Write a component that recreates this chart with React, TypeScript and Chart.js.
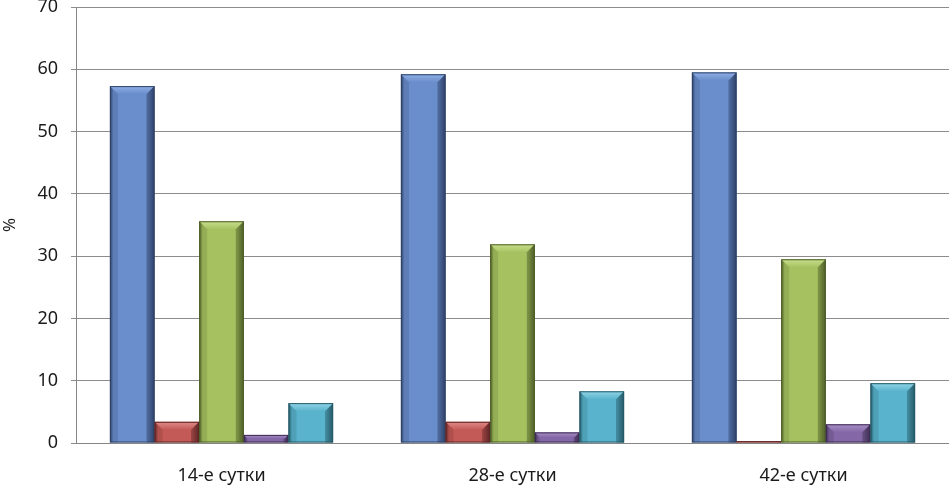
import React, { useEffect, useRef } from "react";
import { Chart, registerables } from "chart.js";

Chart.register(...registerables);

const categories = ["14-е сутки", "28-е сутки", "42-е сутки"];
const series1 = [57.3, 59.2, 59.5];
const series2 = [3.4, 3.4, 0.3];
const series3 = [35.6, 31.9, 29.5];
const series4 = [1.3, 1.7, 3.0];
const series5 = [6.4, 8.3, 9.6];
const yTicks = [0, 10, 20, 30, 40, 50, 60, 70];

const palette = [
  { face: "#6a8dcb", light: "#8fb0e6", dark: "#2e4267" },
  { face: "#c45a57", light: "#e08c89", dark: "#5e2625" },
  { face: "#a6c260", light: "#c9df8e", dark: "#4d5e28" },
  { face: "#8467a6", light: "#a990c8", dark: "#3d2d52" },
  { face: "#5ab3cc", light: "#90d5e8", dark: "#255968" },
];

const bevelPlugin = {
  id: "bevel",
  afterDatasetsDraw(chart: any) {
    const ctx = chart.ctx;
    chart.data.datasets.forEach((ds: any, di: number) => {
      const meta = chart.getDatasetMeta(di);
      const c = palette[di];
      meta.data.forEach((bar: any) => {
        const w = bar.width;
        const x0 = bar.x - w / 2;
        const x1 = bar.x + w / 2;
        const top = Math.min(bar.y, bar.base);
        const bot = Math.max(bar.y, bar.base);
        const h = bot - top;
        if (h <= 0) return;
        ctx.save();
        const g = ctx.createLinearGradient(x0, 0, x1, 0);
        g.addColorStop(0, c.dark);
        g.addColorStop(0.08, c.face);
        g.addColorStop(0.5, c.face);
        g.addColorStop(0.85, c.face);
        g.addColorStop(1, c.dark);
        ctx.fillStyle = g;
        ctx.fillRect(x0, top, w, h);
        const b = Math.min(8, h / 2);
        const tg = ctx.createLinearGradient(0, top, 0, top + b);
        tg.addColorStop(0, c.light);
        tg.addColorStop(1, c.face);
        ctx.fillStyle = tg;
        ctx.beginPath();
        ctx.moveTo(x0, top);
        ctx.lineTo(x1, top);
        ctx.lineTo(x1 - b, top + b);
        ctx.lineTo(x0 + b, top + b);
        ctx.closePath();
        ctx.fill();
        ctx.fillStyle = c.dark;
        ctx.globalAlpha = 0.5;
        ctx.beginPath();
        ctx.moveTo(x1, top);
        ctx.lineTo(x1, bot);
        ctx.lineTo(x1 - b, bot);
        ctx.lineTo(x1 - b, top + b);
        ctx.closePath();
        ctx.fill();
        ctx.globalAlpha = 0.2;
        ctx.beginPath();
        ctx.moveTo(x0, top);
        ctx.lineTo(x0 + b, top + b);
        ctx.lineTo(x0 + b, bot);
        ctx.lineTo(x0, bot);
        ctx.closePath();
        ctx.fill();
        ctx.globalAlpha = 1;
        ctx.strokeStyle = c.dark;
        ctx.lineWidth = 1;
        ctx.strokeRect(x0 + 0.5, top + 0.5, w - 1, h - 1);
        ctx.restore();
      });
    });
  },
};

export default function App() {
  const ref = useRef<HTMLCanvasElement>(null);
  useEffect(() => {
    document.body.style.margin = "0";
    const all = [series1, series2, series3, series4, series5];
    const chart = new Chart(ref.current!, {
      type: "bar",
      data: {
        labels: categories,
        datasets: all.map((d, i) => ({
          label: "s" + (i + 1),
          data: d,
          backgroundColor: "rgba(0,0,0,0)",
          borderWidth: 0,
        })),
      },
      options: {
        animation: false,
        responsive: false,
        maintainAspectRatio: false,
        layout: { padding: { top: 7, left: 0, right: 0, bottom: 0 } },
        plugins: { legend: { display: false }, tooltip: { enabled: false } },
        datasets: { bar: { categoryPercentage: 0.767, barPercentage: 1 } },
        scales: {
          x: {
            grid: { display: false },
            border: { display: true, color: "#868686" },
            ticks: {
              color: "#1a1a1a",
              font: { family: "'Noto Sans'", size: 18 },
              padding: 14,
            },
            afterFit: (s: any) => {
              s.height = 44;
              s.paddingLeft = 0;
              s.paddingRight = 0;
            },
          },
          y: {
            min: 0,
            max: 70,
            afterBuildTicks: (s: any) => {
              s.ticks = yTicks.map((v) => ({ value: v }));
            },
            grid: { color: "#8c8c8c", tickLength: 5 },
            border: { display: true, color: "#868686" },
            ticks: {
              color: "#1a1a1a",
              font: { family: "'Noto Sans'", size: 18 },
              padding: 13,
            },
            title: {
              display: true,
              text: "%",
              color: "#1a1a1a",
              font: { family: "'Noto Sans'", size: 17 },
              padding: 0,
            },
            afterFit: (s: any) => {
              s.width = 76;
              s.paddingTop = 0;
              s.paddingBottom = 0;
            },
          },
        },
      },
      plugins: [bevelPlugin],
    });
    return () => chart.destroy();
  }, []);
  return (
    <div style={{ position: "fixed", left: 0, top: 0, width: 949, height: 487, background: "#fff" }}>
      <canvas ref={ref} width={949} height={487} style={{ width: 949, height: 487 }} />
    </div>
  );
}
